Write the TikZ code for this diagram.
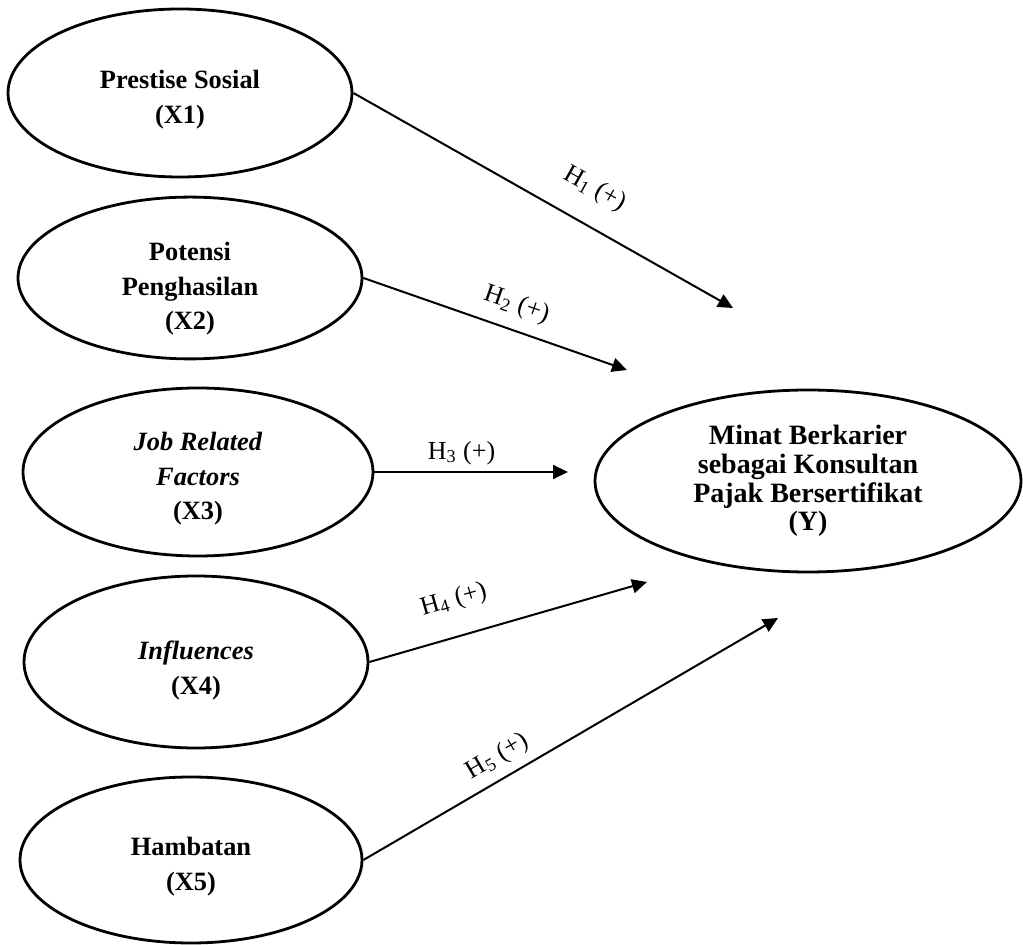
\documentclass[tikz,border=0pt]{standalone}
\usepackage{fontspec}
\setmainfont{Liberation Serif}
\usetikzlibrary{shapes.geometric,arrows.meta}
\newcommand\xstrut[1]{\rule{0pt}{#1}}
\begin{document}
\begin{tikzpicture}[x=0.5pt,y=-0.5pt,
  var/.style={draw, ellipse, line width=1.4pt, inner sep=0pt, align=center,
    font=\fontsize{13.2}{17.2}\selectfont\bfseries},
  hyp/.style={-{Triangle[length=7.5pt,width=7pt]}, line width=1pt},
  lab/.style={font=\fontsize{13}{15}\selectfont, inner sep=0pt, sloped}]
\useasboundingbox (0,0) rectangle (1023,945);
\node[var, minimum width=172pt, minimum height=84pt] (X1) at (180,93) {\xstrut{16pt}Prestise Sosial\\(X1)};
\node[var, minimum width=172pt, minimum height=79pt] (X2) at (190,278) {\xstrut{20pt}Potensi\\Penghasilan\\(X2)};
\node[var, minimum width=175pt, minimum height=84pt] (X3) at (198,472) {\xstrut{16pt}\textit{Job Related}\\\textit{Factors}\\(X3)};
\node[var, minimum width=172pt, minimum height=86pt] (X4) at (196,662) {\xstrut{18pt}\textit{Influences}\\(X4)};
\node[var, minimum width=171pt, minimum height=83pt] (X5) at (191,860) {\xstrut{16pt}Hambatan\\(X5)};
\node[var, minimum width=213pt, minimum height=91pt, font=\fontsize{14}{14.3}\selectfont\bfseries] (Y) at (808,481)
  {Minat Berkarier\\sebagai Konsultan\\Pajak Bersertifikat\\(Y)};
\coordinate (t1) at (733,308);
\coordinate (t2) at (627,370);
\coordinate (t3) at (568,472);
\coordinate (t4) at (647,582);
\coordinate (t5) at (778,618);
\draw[hyp] (X1.east) -- node[lab, pos=0.59, above=11.2pt] (h1) {H\textsubscript{1} (+)} (t1);
\draw[hyp] (X2.east) -- node[lab, pos=0.55, above=6pt] (h2) {H\textsubscript{2} (+)} (t2);
\draw[hyp] (X3.east) -- node[lab, pos=0.45, above=3.2pt] (h3) {H\textsubscript{3} (+)} (t3);
\draw[hyp] (X4.east) -- node[lab, pos=0.34, above=11.7pt] (h4) {H\textsubscript{4} (+)} (t4);
\draw[hyp] (X5.east) -- node[lab, pos=0.35, above=4.4pt] (h5) {H\textsubscript{5} (+)} (t5);
\end{tikzpicture}
\end{document}
